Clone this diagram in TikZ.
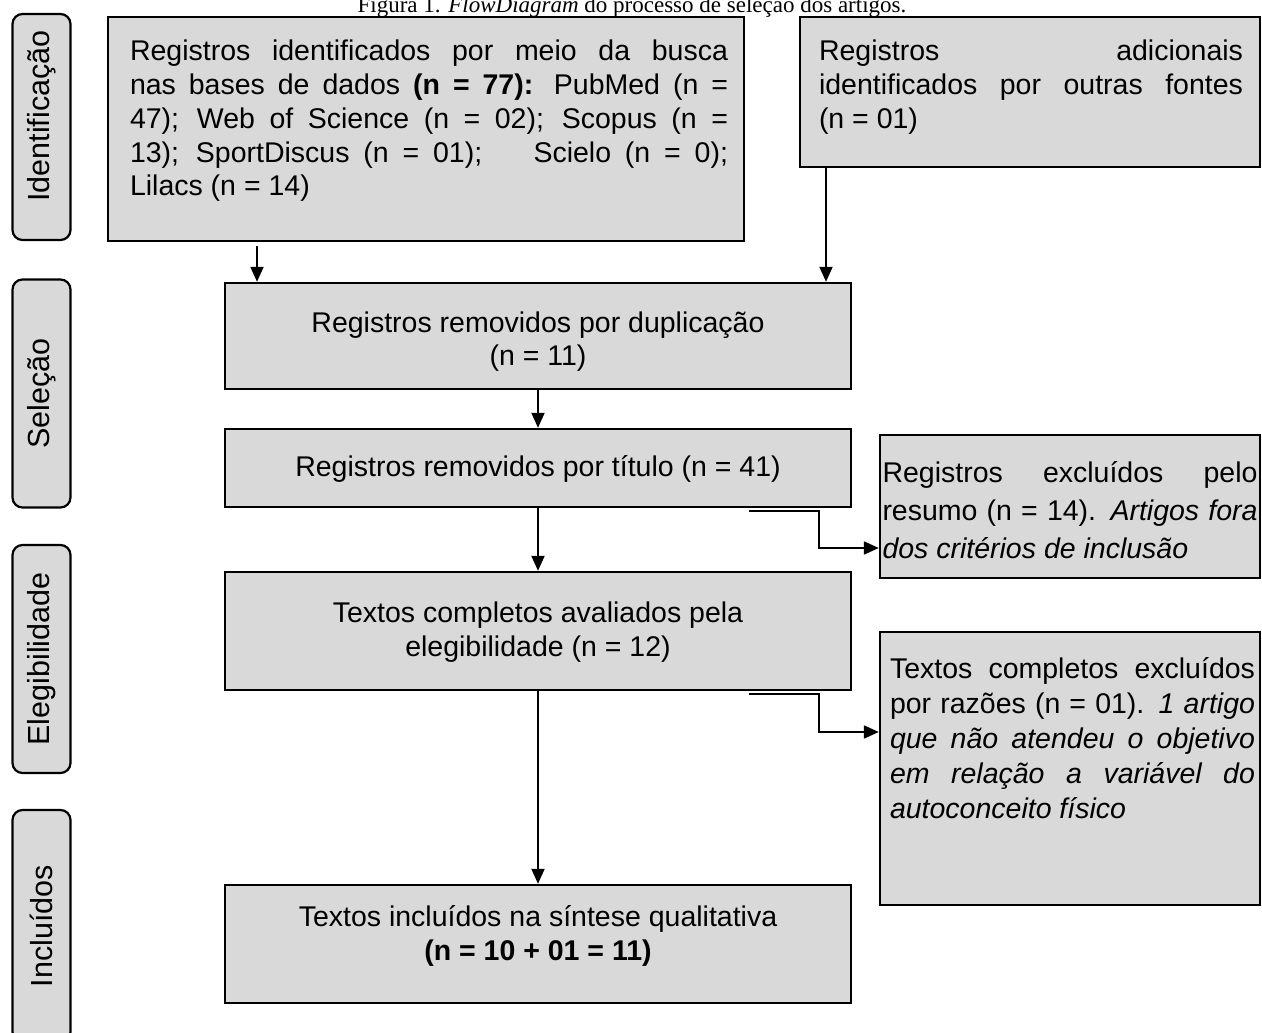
\documentclass[tikz,border=0pt]{standalone}
\usepackage{fontspec}
\setmainfont{Liberation Sans}
\newfontfamily\titleserif{Liberation Serif}
\usetikzlibrary{arrows.meta,calc}
\definecolor{boxgray}{RGB}{217,217,217}
\tikzset{
  box/.style={draw=black, line width=2.4pt, fill=boxgray, inner sep=0pt},
  txt/.style={inner sep=0pt, font=\fontsize{28.5}{33.7}\selectfont},
  side/.style={draw=black, line width=2.2pt, fill=boxgray, rounded corners=10pt, inner sep=0pt, font=\fontsize{30.5}{34}\selectfont},
  arr/.style={draw=black, line width=2pt, -{Triangle[length=15pt,width=13pt]}},
}
\begin{document}
\begin{tikzpicture}[x=1pt,y=-1pt]
\useasboundingbox (0,0) rectangle (1262,1033);
% title (partly cut at top)
\node[font=\titleserif\fontsize{23}{27}\selectfont, anchor=base, inner sep=0pt] (title) at (632,13)
  {Figura 1. \textit{FlowDiagram} do processo de seleção dos artigos.};
% side labels
\node[side, minimum width=226pt, minimum height=58pt, rotate=90] (s1) at (41.5,127) {\hspace*{22pt}Identificação};
\node[side, minimum width=228pt, minimum height=58pt, rotate=90] (s2) at (41.5,393.5) {Seleção};
\node[side, minimum width=228pt, minimum height=58pt, rotate=90] (s3) at (41.5,659) {Elegibilidade};
\node[side, minimum width=232pt, minimum height=58pt, rotate=90] (s4) at (41.5,926) {Incluídos};
% boxes
\node[box, minimum width=636pt, minimum height=224pt] (A) at (426,129) {};
\node[box, minimum width=460pt, minimum height=150pt] (B) at (1030,92) {};
\node[box, minimum width=626pt, minimum height=106pt] (C) at (538,336) {};
\node[box, minimum width=626pt, minimum height=78pt] (D) at (538,468) {};
\node[box, minimum width=380pt, minimum height=143pt] (E) at (1070,506.5) {};
\node[box, minimum width=626pt, minimum height=118pt] (F) at (538,631) {};
\node[box, minimum width=380pt, minimum height=273pt] (G) at (1070,768.5) {};
\node[box, minimum width=626pt, minimum height=118pt] (H) at (538,944) {};
% texts
\node[txt, text width=598pt, align=justify] (At) at (429,121)
  {Registros identificados por meio da busca\linebreak nas bases de dados \textbf{(n = 77):} PubMed (n =\linebreak 47); Web of Science (n = 02); Scopus (n =\linebreak 13); SportDiscus (n = 01);\hspace{1.8em}Scielo (n = 0);\linebreak Lilacs (n = 14)};
\node[txt, text width=424pt, align=justify] (Bt) at (1031,87)
  {Registros adicionais\linebreak identificados por outras fontes\linebreak (n = 01)};
\node[txt, align=center] (Ct) at (538,341.5)
  {Registros removidos por duplicação\\(n = 11)};
\node[txt, align=center] (Dt) at (538,469)
  {Registros removidos por título (n = 41)};
\node[txt, text width=375pt, align=justify, font=\fontsize{28.5}{38}\selectfont] (Et) at (1070,510)
  {Registros excluídos pelo\linebreak resumo (n = 14). \textit{Artigos fora\linebreak dos critérios de inclusão}};
\node[txt, align=center] (Ft) at (538,632)
  {Textos completos avaliados pela\\elegibilidade (n = 12)};
\node[txt, text width=365pt, align=justify, font=\fontsize{28.5}{35}\selectfont] (Gt) at (1072.5,738)
  {Textos completos excluídos\linebreak por razões (n = 01). \textit{1 artigo\linebreak que não atendeu o objetivo\linebreak em relação a variável do\linebreak autoconceito físico}};
\node[txt, align=center] (Ht) at (538,936)
  {Textos incluídos na síntese qualitativa\\\textbf{(n = 10 + 01 = 11)}};
% connectors
\draw[arr, shorten <=4pt] ([xshift=-169pt]A.south) -- ([xshift=-169pt]A.south |- C.north);
\draw[arr] ([xshift=-204pt]B.south) -- ([xshift=-204pt]B.south |- C.north);
\draw[arr] (C.south) -- (D.north);
\draw[arr] (D.south) -- (F.north);
\draw[arr] (F.south) -- (H.north);
\draw[arr] ([xshift=-103pt,yshift=-3pt]D.south east) -- ++(70,0) |- ([yshift=-41.5pt]E.west);
\draw[arr] ([xshift=-103pt,yshift=-3pt]F.south east) -- ++(70,0) |- ([yshift=36.5pt]G.west);
\end{tikzpicture}
\end{document}
